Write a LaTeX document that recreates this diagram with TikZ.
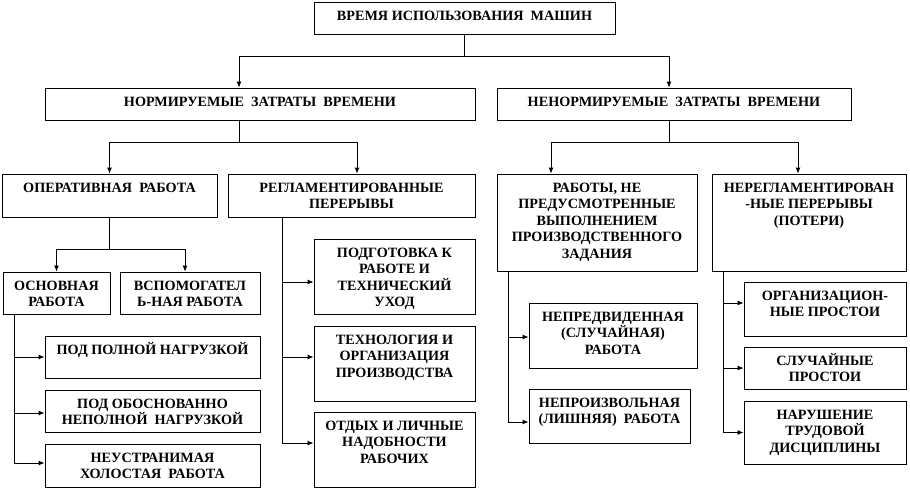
\documentclass[tikz,border=0pt]{standalone}
\usepackage{fontspec}
\setmainfont{Liberation Serif}[BoldFont={Liberation Serif Bold}]
\usetikzlibrary{arrows.meta}

\newcommand{\boxtxt}[3]{\parbox[c][#2pt][t]{#1pt}{\centering\vspace*{5pt}\rule{0pt}{13pt}#3\par}}

\tikzset{
    blk/.style={draw, line width=0.9pt, inner sep=0pt, font=\fontsize{14.2}{16.5}\selectfont\bfseries},
    link/.style={line width=0.9pt},
    arr/.style={link, -{Latex[length=6pt,width=5pt]}}
}

\begin{document}
\begin{tikzpicture}[x=1pt, y=-1pt]

        \useasboundingbox (0,0) rectangle (910,491);

        % Nodes

        \node[blk] (time) at (464.5,18) {\boxtxt{301}{32}{ВРЕМЯ ИСПОЛЬЗОВАНИЯ\ \ МАШИН}};
        \node[blk] (norm) at (260,104) {\boxtxt{430}{32}{НОРМИРУЕМЫЕ\ \ ЗАТРАТЫ\ \ ВРЕМЕНИ}};
        \node[blk] (nenorm) at (674,104) {\boxtxt{354}{32}{НЕНОРМИРУЕМЫЕ\ \ ЗАТРАТЫ\ \ ВРЕМЕНИ}};
        \node[blk] (oper) at (109.5,195.5) {\boxtxt{215}{43}{ОПЕРАТИВНАЯ\ \ РАБОТА}};
        \node[blk] (regl) at (351.5,195.5) {\boxtxt{247}{43}{РЕГЛАМЕНТИРОВАННЫЕ\\ПЕРЕРЫВЫ}};
        \node[blk] (extra) at (597,222.5) {\boxtxt{200}{97}{РАБОТЫ, НЕ\\ПРЕДУСМОТРЕННЫЕ\\ВЫПОЛНЕНИЕМ\\ПРОИЗВОДСТВЕННОГО\\ЗАДАНИЯ}};
        \node[blk] (loss) at (809,222.5) {\boxtxt{194}{97}{НЕРЕГЛАМЕНТИРОВАН\\-НЫЕ ПЕРЕРЫВЫ\\(ПОТЕРИ)}};

        \node[blk] (main) at (56.5,293) {\boxtxt{107}{42}{ОСНОВНАЯ\\РАБОТА}};
        \node[blk] (aux) at (190,293) {\boxtxt{140}{42}{ВСПОМОГАТЕЛ\\Ь-НАЯ РАБОТА}};
        \node[blk] (full) at (152.5,357) {\boxtxt{215}{42}{ПОД ПОЛНОЙ НАГРУЗКОЙ}};
        \node[blk] (part) at (152.5,411) {\boxtxt{215}{42}{ПОД ОБОСНОВАННО\\НЕПОЛНОЙ\ \ НАГРУЗКОЙ}};
        \node[blk] (idle) at (152.5,465.5) {\boxtxt{215}{43}{НЕУСТРАНИМАЯ\\ХОЛОСТАЯ\ \ РАБОТА}};

        \node[blk] (prep) at (394.5,276.5) {\boxtxt{161}{75}{ПОДГОТОВКА К\\РАБОТЕ И\\ТЕХНИЧЕСКИЙ\\УХОД}};
        \node[blk] (tech) at (394.5,363.5) {\boxtxt{161}{75}{ТЕХНОЛОГИЯ И\\ОРГАНИЗАЦИЯ\\ПРОИЗВОДСТВА}};
        \node[blk] (rest) at (394.5,449.5) {\boxtxt{161}{75}{ОТДЫХ И ЛИЧНЫЕ\\НАДОБНОСТИ\\РАБОЧИХ}};

        \node[blk] (unfor) at (613,335.5) {\boxtxt{168}{65}{НЕПРЕДВИДЕННАЯ\\(СЛУЧАЙНАЯ)\\РАБОТА}};
        \node[blk] (invol) at (609.5,416) {\boxtxt{161}{54}{НЕПРОИЗВОЛЬНАЯ\\(ЛИШНЯЯ)\ \ РАБОТА}};

        \node[blk] (org) at (825,309) {\boxtxt{162}{54}{ОРГАНИЗАЦИОН-\\НЫЕ ПРОСТОИ}};
        \node[blk] (rand) at (825,368) {\boxtxt{162}{42}{СЛУЧАЙНЫЕ\\ПРОСТОИ}};
        \node[blk] (disc) at (825,432.5) {\boxtxt{162}{63}{НАРУШЕНИЕ\\ТРУДОВОЙ\\ДИСЦИПЛИНЫ}};

        % Edges

        \draw[link] (time.south) -- ++(0,22) coordinate (b0);
        \draw[arr] (b0) -| ([xshift=-21pt]norm.north);
        \draw[arr] (b0) -| ([xshift=-5pt]nenorm.north);

        \draw[link] ([xshift=-21pt]norm.south) -- ++(0,22) coordinate (b1);
        \draw[arr] (b1) -| (oper.north);
        \draw[arr] (b1) -| ([xshift=5.5pt]regl.north);

        \draw[link] ([xshift=-5pt]nenorm.south) -- ++(0,22) coordinate (b2);
        \draw[arr] (b2) -| ([xshift=-46pt]extra.north);
        \draw[arr] (b2) -| ([xshift=-11pt]loss.north);

        \draw[link] (oper.south) -- ++(0,32) coordinate (b3);
        \draw[arr] (b3) -| (main.north);
        \draw[arr] (b3) -| ([xshift=-5pt]aux.north);

        \draw[arr] ([xshift=-42.5pt]main.south) |- (full.west);
        \draw[arr] ([xshift=-42.5pt]main.south) |- ([yshift=-2pt]part.west);
        \draw[arr] ([xshift=-42.5pt]main.south) |- ([yshift=2.5pt]idle.west);

        \draw[arr] ([xshift=-69.5pt]regl.south) |- ([yshift=-5.5pt]prep.west);
        \draw[arr] ([xshift=-69.5pt]regl.south) |- ([yshift=6.5pt]tech.west);
        \draw[arr] ([xshift=-69.5pt]regl.south) |- ([yshift=6.5pt]rest.west);

        \draw[arr] ([xshift=-89pt]extra.south) |- ([yshift=-1.5pt]unfor.west);
        \draw[arr] ([xshift=-89pt]extra.south) |- ([yshift=-6pt]invol.west);

        \draw[arr] ([xshift=-86pt]loss.south) |- ([yshift=6pt]org.west);
        \draw[arr] ([xshift=-86pt]loss.south) |- (rand.west);
        \draw[arr] ([xshift=-86pt]loss.south) |- (disc.west);

    \end{tikzpicture}
\end{document}
